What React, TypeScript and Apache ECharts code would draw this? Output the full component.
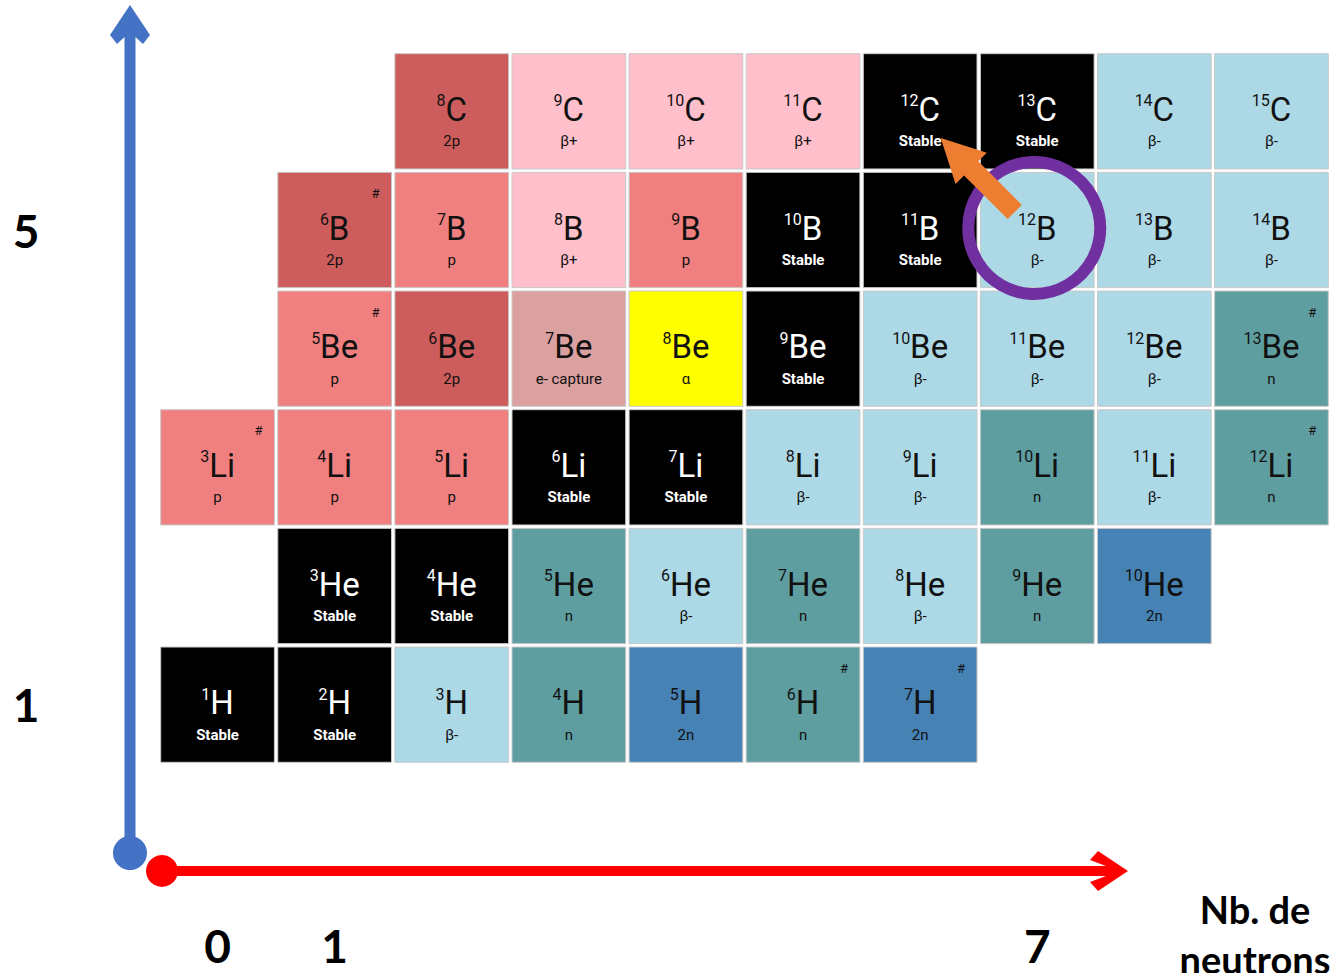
import React, { useEffect, useRef } from 'react';
import * as echarts from 'echarts';

// ---- data ----
const SYMBOLS = ['H', 'He', 'Li', 'Be', 'B', 'C']; // index = Z - 1

const H_N = [0, 1, 2, 3, 4, 5, 6];
const H_DECAY = ['Stable', 'Stable', 'β-', 'n', '2n', 'n', '2n'];
const H_HASH = [5, 6];

const HE_N = [1, 2, 3, 4, 5, 6, 7, 8];
const HE_DECAY = ['Stable', 'Stable', 'n', 'β-', 'n', 'β-', 'n', '2n'];
const HE_HASH: number[] = [];

const LI_N = [0, 1, 2, 3, 4, 5, 6, 7, 8, 9];
const LI_DECAY = ['p', 'p', 'p', 'Stable', 'Stable', 'β-', 'β-', 'n', 'β-', 'n'];
const LI_HASH = [0, 9];

const BE_N = [1, 2, 3, 4, 5, 6, 7, 8, 9];
const BE_DECAY = ['p', '2p', 'e- capture', 'α', 'Stable', 'β-', 'β-', 'β-', 'n'];
const BE_HASH = [1, 9];

const B_N = [1, 2, 3, 4, 5, 6, 7, 8, 9];
const B_DECAY = ['2p', 'p', 'β+', 'p', 'Stable', 'Stable', 'β-', 'β-', 'β-'];
const B_HASH = [1];

const C_N = [2, 3, 4, 5, 6, 7, 8, 9];
const C_DECAY = ['2p', 'β+', 'β+', 'β+', 'Stable', 'Stable', 'β-', 'β-'];
const C_HASH: number[] = [];

const X_LABELS = [0, 1, 7];
const Y_LABELS = [1, 5];

// highlighted nuclide (N, Z)
const HIGHLIGHT = [7, 5];

const DECAY_COLORS: Record<string, string> = {
  Stable: '#000000',
  'β-': '#ADD8E6',
  n: '#5F9EA0',
  '2n': '#4682B4',
  p: '#F08080',
  '2p': '#CD5C5C',
  'β+': '#FFC0CB',
  'e- capture': '#DBA0A0',
  'α': '#FFFF00',
};

const ROWS = [
  { z: 1, n: H_N, decay: H_DECAY, hash: H_HASH },
  { z: 2, n: HE_N, decay: HE_DECAY, hash: HE_HASH },
  { z: 3, n: LI_N, decay: LI_DECAY, hash: LI_HASH },
  { z: 4, n: BE_N, decay: BE_DECAY, hash: BE_HASH },
  { z: 5, n: B_N, decay: B_DECAY, hash: B_HASH },
  { z: 6, n: C_N, decay: C_DECAY, hash: C_HASH },
];

type Cell = { n: number; z: number; decay: string; hash: boolean };
const CELLS: Cell[] = [];
ROWS.forEach((r) => {
  r.n.forEach((n, i) => {
    CELLS.push({ n, z: r.z, decay: r.decay[i], hash: r.hash.includes(n) });
  });
});

export default function App() {
  const ref = useRef<HTMLDivElement>(null);

  useEffect(() => {
    if (!ref.current) return;
    const chart = echarts.init(ref.current, undefined, { renderer: 'svg' });

    const option: any = {
      animation: false,
      backgroundColor: '#ffffff',
      grid: { left: 159, top: 52, width: 1173, height: 712 },
      xAxis: {
        type: 'value',
        min: -0.5,
        max: 9.5,
        interval: 0.5,
        axisLine: { show: false },
        axisTick: { show: false },
        splitLine: { show: false },
        axisLabel: {
          formatter: (v: number) => (X_LABELS.includes(v) ? String(v) : ''),
          fontSize: 46,
          fontWeight: 'bold',
          fontFamily: 'Lato',
          color: '#000',
          margin: 181,
          verticalAlign: 'middle',
          showMinLabel: true,
          showMaxLabel: true,
        },
      },
      yAxis: {
        type: 'value',
        min: 0.5,
        max: 6.5,
        interval: 0.5,
        axisLine: { show: false },
        axisTick: { show: false },
        splitLine: { show: false },
        axisLabel: {
          formatter: (v: number) => (Y_LABELS.includes(v) ? String(v) : ''),
          fontSize: 46,
          fontWeight: 'bold',
          fontFamily: 'Lato',
          color: '#000',
          margin: 133,
          align: 'center',
          verticalAlign: 'middle',
        },
      },
      graphic: [
        // vertical (blue) axis arrow
        {
          type: 'polygon',
          shape: {
            points: [
              [130, 5], [150, 35], [143, 44], [135.5, 37], [135.5, 853],
              [124.5, 853], [124.5, 37], [117, 44], [110, 35],
            ],
          },
          style: { fill: '#4472C4' },
        },
        { type: 'circle', shape: { cx: 130, cy: 853, r: 17 }, style: { fill: '#4472C4' } },
        // horizontal (red) axis arrow
        {
          type: 'polygon',
          shape: {
            points: [
              [1128, 871], [1098, 851], [1090, 860], [1106, 866], [162, 866],
              [162, 876], [1106, 876], [1090, 882], [1098, 891],
            ],
          },
          style: { fill: '#FF0000' },
        },
        { type: 'circle', shape: { cx: 162, cy: 871, r: 16 }, style: { fill: '#FF0000' } },
        {
          type: 'text',
          x: 1255,
          y: 884,
          style: {
            text: 'Nb. de\nneutrons',
            fontSize: 38,
            fontWeight: 'bold',
            fontFamily: 'Lato',
            fill: '#000',
            align: 'center',
            verticalAlign: 'top',
            lineHeight: 50,
          },
        },
      ],
      series: [
        {
          type: 'custom',
          name: 'nuclides',
          coordinateSystem: 'cartesian2d',
          clip: false,
          data: CELLS.map((c) => [c.n, c.z]),
          renderItem: (params: any, api: any) => {
            const cell = CELLS[params.dataIndex];
            const n = api.value(0);
            const z = api.value(1);
            const c = api.coord([n, z]);
            const s = api.size([1, 1]);
            const w = s[0] - 3.4;
            const h = s[1] - 3.4;
            const stable = cell.decay === 'Stable';
            const fg = stable ? '#ffffff' : '#111111';
            const mass = n + z;
            const sym = SYMBOLS[z - 1];
            const children: any[] = [
              {
                type: 'rect',
                shape: { x: c[0] - w / 2, y: c[1] - h / 2, width: w, height: h },
                style: { fill: DECAY_COLORS[cell.decay], stroke: '#c8c8c8', lineWidth: 1 },
              },
              {
                type: 'text',
                x: c[0],
                y: c[1] - 2,
                style: {
                  text: `{m|${mass}}{s|${sym}}`,
                  align: 'center',
                  verticalAlign: 'middle',
                  rich: {
                    m: { fontSize: 16, fontFamily: 'Roboto', fill: fg, verticalAlign: 'top' },
                    s: { fontSize: 33, fontFamily: 'Roboto', fill: fg },
                  },
                },
              },
              {
                type: 'text',
                x: c[0],
                y: c[1] + 30,
                style: {
                  text: cell.decay,
                  fontSize: 15,
                  fontFamily: 'Roboto',
                  fontWeight: stable ? 'bold' : 'normal',
                  fill: fg,
                  align: 'center',
                  verticalAlign: 'middle',
                },
              },
            ];
            if (cell.hash) {
              children.push({
                type: 'text',
                x: c[0] + w / 2 - 16,
                y: c[1] - h / 2 + 21,
                style: {
                  text: '#',
                  fontSize: 13,
                  fontFamily: 'Roboto',
                  fill: '#111',
                  align: 'center',
                  verticalAlign: 'middle',
                },
              });
            }
            return { type: 'group', children };
          },
        },
        {
          type: 'custom',
          name: 'annotation',
          coordinateSystem: 'cartesian2d',
          clip: false,
          z: 10,
          data: [HIGHLIGHT],
          renderItem: (params: any, api: any) => {
            const c = api.coord([api.value(0), api.value(1)]);
            const pts = [
              [-15.4, -25.1], [-59, -68.7], [-50.5, -77.2], [-96.5, -92],
              [-81.7, -46], [-73.2, -54.5], [-29.6, -10.9],
            ].map((p) => [c[0] + p[0], c[1] + p[1]]);
            return {
              type: 'group',
              children: [
                {
                  type: 'circle',
                  shape: { cx: c[0] - 3, cy: c[1] - 2, r: 66 },
                  style: { fill: 'none', stroke: '#7030A0', lineWidth: 12 },
                },
                {
                  type: 'polygon',
                  shape: { points: pts },
                  style: { fill: '#ED7D31' },
                },
              ],
            };
          },
        },
      ],
    };

    chart.setOption(option);
    return () => chart.dispose();
  }, []);

  return (
    <div
      ref={ref}
      style={{ position: 'fixed', left: 0, top: 0, width: 1333, height: 973 }}
    />
  );
}
